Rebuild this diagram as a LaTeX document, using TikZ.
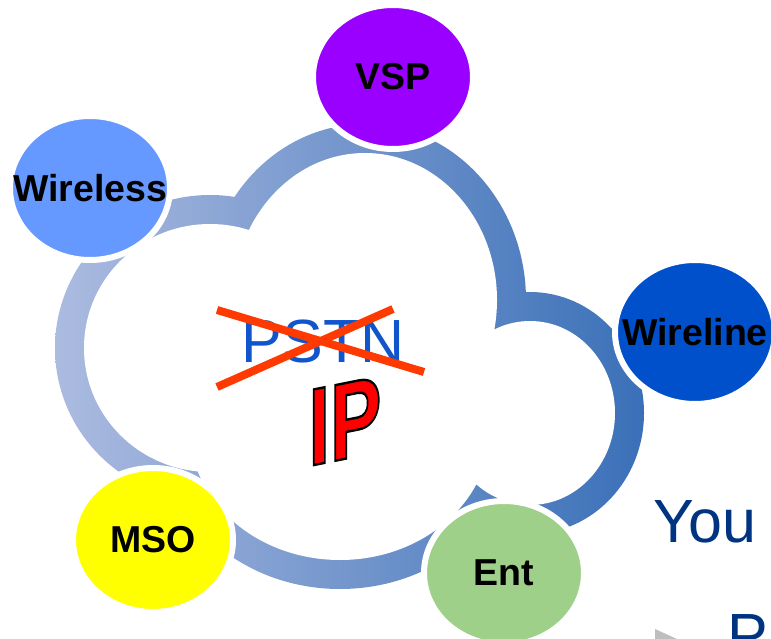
\documentclass[tikz,border=0pt]{standalone}
\usepackage{fontspec}
\setmainfont{Liberation Sans}
\usepackage{xcolor}
\usepackage{tikz}
\usetikzlibrary{shapes.geometric}

\definecolor{cloudleft}{RGB}{172,187,224}
\definecolor{cloudright}{RGB}{58,112,184}
\definecolor{vspcol}{RGB}{153,0,255}
\definecolor{wirelesscol}{RGB}{102,153,255}
\definecolor{wirelinecol}{RGB}{0,80,204}
\definecolor{msocol}{RGB}{255,255,0}
\definecolor{entcol}{RGB}{158,208,137}
\definecolor{pstncol}{RGB}{17,85,204}
\definecolor{crosscol}{RGB}{255,58,0}
\definecolor{youcol}{RGB}{0,51,128}
\definecolor{bulletgray}{RGB}{190,190,190}

\begin{document}
\begin{tikzpicture}[x=1pt,y=-1pt]
    \tikzstyle{member} = [
      ellipse,
      draw=white,
      line width=6pt,
      inner sep=0pt,
      minimum width=160pt,
      minimum height=144pt,
      font=\fontsize{37.5}{38}\selectfont\bfseries,
    ]
    \tikzstyle{strike} = [
      line width=8pt,
      draw=crosscol,
    ]
    \tikzstyle{slide} = [
      anchor=base west,
      inner sep=0pt,
      text=youcol,
      font=\fontsize{61}{61}\selectfont,
    ]

    \newcommand{\lobes}[1]{
      (210,348) ellipse [x radius=126+#1, y radius=124+#1]
      (365,300) ellipse [x radius=132+#1, y radius=147+#1]
      (530,413) ellipse [x radius=85+#1, y radius=92+#1]
      (340,430) ellipse [x radius=150+#1, y radius=130+#1]
      (360,380) ellipse [x radius=150+#1, y radius=110+#1]}
    \newcommand{\memberlabel}[1]{\makebox[0pt]{#1}}
    \newcommand{\outlined}[1]{\special{pdf:literal direct 0 0 0 RG 2.4 w 2 Tr}#1\special{pdf:literal direct 0 Tr}}

    \useasboundingbox (0,0) rectangle (771,639);
    \clip (0,0) rectangle (771,639);

    \path[left color=cloudleft,right color=cloudright] \lobes{29};
    \fill[white] \lobes{0};

    \node[member,fill=vspcol] (vsp) at (393,77) {\memberlabel{VSP}};
    \node[member,fill=wirelesscol] (wireless) at (90,188) {\memberlabel{Wireless}};
    \node[member,fill=wirelinecol] (wireline) at (695,332) {\memberlabel{Wireline}};
    \node[member,fill=msocol] (mso) at (153,540) {\memberlabel{MSO}};
    \node[member,fill=entcol] (ent) at (504,573) {\memberlabel{Ent}};

    \node[text=pstncol,font=\fontsize{61}{61}\selectfont] (pstn) at (323,341) {PSTN};
    \coordinate (strikeA) at (217,310);
    \coordinate (strikeB) at (424,372);
    \coordinate (strikeC) at (217,387);
    \coordinate (strikeD) at (393,309);
    \draw[strike] (strikeA) -- (strikeB);
    \draw[strike] (strikeC) -- (strikeD);

    \begin{scope}[shift={(345,421)},xscale=0.7,yslant=0.14,transform shape]
      \node[text=red,font=\fontsize{110}{110}\selectfont\bfseries] (ip) at (0,0) {\outlined{IP}};
    \end{scope}

    \node[slide] (you) at (653,542) {You};
    \node[slide] (nextline) at (727,656) {P};
    \fill[bulletgray] (655,629) -- (690,645) -- (655,661) -- cycle;
  \end{tikzpicture}
\end{document}
